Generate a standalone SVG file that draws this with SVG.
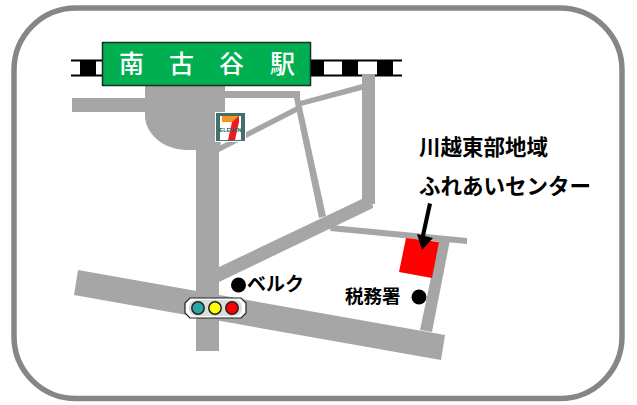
<svg xmlns="http://www.w3.org/2000/svg" width="637" height="405" viewBox="0 0 637 405">
<style>
.road{fill:#a6a6a6}
.t{font-family:"Noto Sans CJK JP","Noto Sans",sans-serif;fill:#000;font-weight:700}
.st{font-family:"Noto Sans CJK JP","Noto Sans",sans-serif;fill:#fff;font-size:25px;font-weight:500}
.wh{fill:#fff}
</style>
<rect width="637" height="405" fill="#fff"/>
<rect x="14" y="8" width="608" height="390.500" rx="62" ry="62" fill="#fff" stroke="#868686" stroke-width="5.500"/>
<g id="rail">
<rect x="71" y="59.500" width="331" height="17" fill="#000"/>
<rect class="wh" x="71" y="61.500" width="9" height="13"/>
<rect class="wh" x="96" y="61.500" width="8" height="13"/>
<rect class="wh" x="324" y="61.500" width="18" height="13"/>
<rect class="wh" x="358" y="61.500" width="19" height="13"/>
<rect class="wh" x="393" y="61.500" width="9" height="13"/>
</g>
<g id="roads">
<rect class="road" x="72" y="98" width="75" height="14"/>
<path class="road" d="M145 86H225V126L219 150H187C165 150 145 135 145 115Z"/>
<rect class="road" x="196" y="130" width="23" height="221"/>
<rect class="road" x="225" y="91" width="75" height="7"/>
<polygon class="road" points="294,98 300,98 326,216 319,218"/>
<polygon class="road" points="219,146 295,107 300,101 362,84 362,90 301,106 297,112 219,152"/>
<rect class="road" x="362" y="74" width="13" height="130"/>
<polygon class="road" points="219,267 362,199 373,205 373,208 219,282"/>
<polygon class="road" points="331,225 467,238 467,244 330,231"/>
<polygon class="road" points="439,240 450,240 432,332 420,330"/>
<polygon class="road" points="78,270 445,335 441,360 74,295"/>
</g>
<g id="station">
<rect x="102.500" y="42.500" width="208" height="43" fill="#00b050" stroke="#1f2a24" stroke-width="1.500"/>
<text class="st" x="119 169 219 270" y="73">南古谷駅</text>
</g>
<g id="seven-eleven">
<rect x="215" y="112" width="31" height="30" fill="#fff"/>
<rect x="216" y="113" width="29" height="28" fill="#44706c"/>
<rect x="220" y="116" width="21" height="24" fill="#fff"/>
<rect x="222" y="116" width="17" height="6" fill="#f7941d"/>
<polygon points="232,122 239,116 239,122 235,140 228,140" fill="#ed1c24"/>
<text x="230.500" y="132" text-anchor="middle" font-family="Liberation Sans,sans-serif" font-weight="700" font-size="5.500" fill="#2f5f5c">ELEVEN</text>
</g>
<g id="signal">
<path d="M190 298H241L246 303V313L241 318H190L185 313V303Z" fill="#fff" stroke="#222" stroke-width="1.200"/>
<rect x="189" y="300" width="53" height="16" rx="7" fill="#ddd"/>
<circle cx="198" cy="308" r="6.200" fill="#2aa6a6" stroke="#222" stroke-width="1.500"/>
<circle cx="215" cy="308" r="6.200" fill="#ffff00" stroke="#222" stroke-width="1.500"/>
<circle cx="232" cy="308" r="6.200" fill="#ff0000" stroke="#222" stroke-width="1.500"/>
</g>
<g id="berg">
<circle cx="238.500" cy="285" r="7.500" fill="#000"/>
<text class="t" x="247" y="291" font-size="19">ベルク</text>
</g>
<g id="tax-office">
<text class="t" x="345" y="303" font-size="18.500">税務署</text>
<circle cx="419" cy="297" r="7.500" fill="#000"/>
</g>
<g id="center">
<polygon points="406,238 439,242 432,278 399,272" fill="#ff0000"/>
<text class="t" x="419" y="155" font-size="21.500">川越東部地域</text>
<text class="t" x="419" y="194" font-size="21.500">ふれあいセンター</text>
</g>
<g id="connectors">
<polygon points="428,203 432,204 425,236 433,238 422,250 417,234 421,235" fill="#000"/>
</g>
</svg>
